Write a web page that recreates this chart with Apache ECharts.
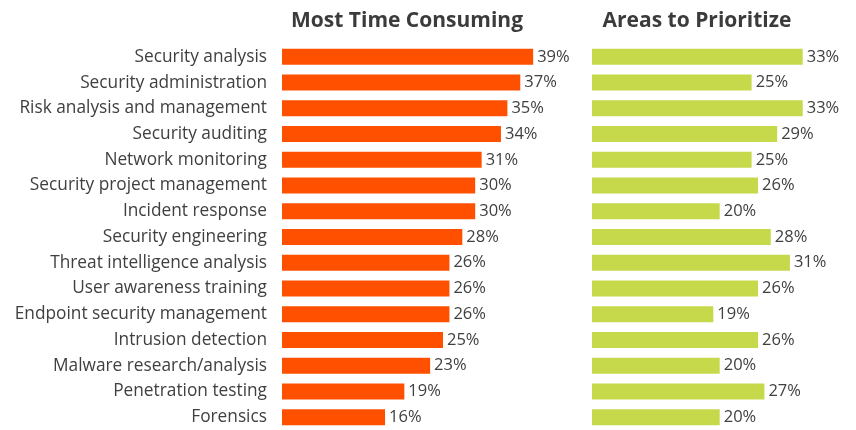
<!DOCTYPE html>
<html>
<head>
<meta charset="utf-8">
<script src="https://cdn.jsdelivr.net/npm/echarts@6/dist/echarts.min.js"></script>
<style>
  html, body { margin: 0; padding: 0; background: #fff; }
  #chart { width: 856px; height: 430px; }
</style>
</head>
<body>
<div id="chart"></div>
<script>
// categories top -> bottom
var categories = [
  "Security analysis",
  "Security administration",
  "Risk analysis and management",
  "Security auditing",
  "Network monitoring",
  "Security project management",
  "Incident response",
  "Security engineering",
  "Threat intelligence analysis",
  "User awareness training",
  "Endpoint security management",
  "Intrusion detection",
  "Malware research/analysis",
  "Penetration testing",
  "Forensics"
];
var timeConsuming = [39, 37, 35, 34, 31, 30, 30, 28, 26, 26, 26, 25, 23, 19, 16];
var prioritize = [33, 25, 33, 29, 25, 26, 20, 28, 31, 26, 19, 26, 20, 27, 20];
var panelTitles = ["Most Time Consuming", "Areas to Prioritize"];

var chart = echarts.init(document.getElementById("chart"));

var font = "'Open Sans', Lato, sans-serif";
var valueLabel = {
  show: true,
  position: "right",
  distance: 4,
  formatter: "{c}%",
  fontFamily: font,
  fontSize: 16.5,
  color: "#404040"
};

chart.setOption({
  animation: false,
  title: [
    {
      text: panelTitles[0],
      left: 402, top: 6, textAlign: "center",
      textStyle: { fontFamily: font, fontWeight: "bold", fontSize: 21, color: "#3b3b3b" }
    },
    {
      text: panelTitles[1],
      left: 692, top: 6, textAlign: "center",
      textStyle: { fontFamily: font, fontWeight: "bold", fontSize: 21, color: "#3b3b3b" }
    }
  ],
  grid: [
    { left: 282, top: 44, width: 257.6, height: 389.4 },
    { left: 592, top: 44, width: 255.4, height: 389.4 }
  ],
  xAxis: [
    { gridIndex: 0, type: "value", min: 0, max: 40, show: false },
    { gridIndex: 1, type: "value", min: 0, max: 40, show: false }
  ],
  yAxis: [
    {
      gridIndex: 0, type: "category", data: categories, inverse: true,
      axisLine: { show: false }, axisTick: { show: false }, splitLine: { show: false },
      axisLabel: { margin: 15, fontFamily: font, fontSize: 17.3, color: "#404040" }
    },
    {
      gridIndex: 1, type: "category", data: categories, inverse: true, show: false
    }
  ],
  series: [
    {
      type: "bar", xAxisIndex: 0, yAxisIndex: 0, data: timeConsuming,
      barWidth: 16, itemStyle: { color: "#FF5000" }, label: valueLabel
    },
    {
      type: "bar", xAxisIndex: 1, yAxisIndex: 1, data: prioritize,
      barWidth: 16, itemStyle: { color: "#C6D94B" }, label: valueLabel
    }
  ]
});
</script>
</body>
</html>
